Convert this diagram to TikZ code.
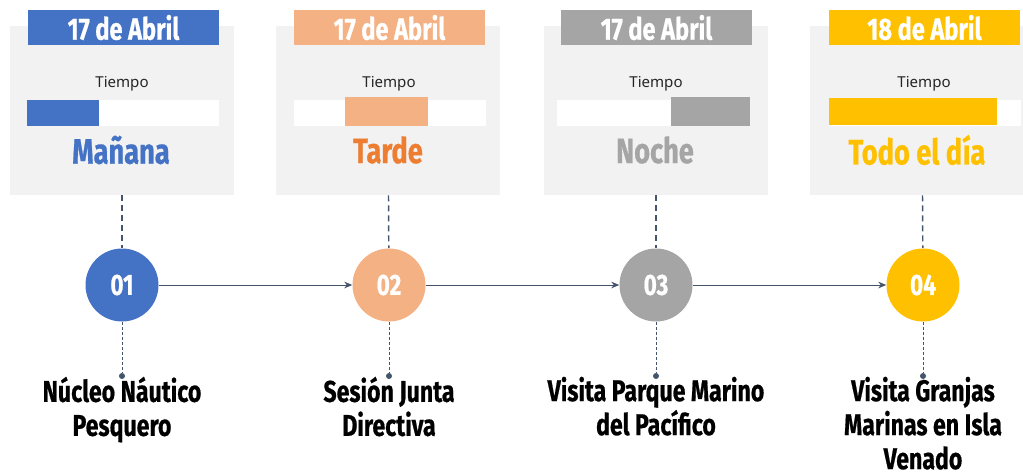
\documentclass[tikz,border=0pt]{standalone}
\usepackage{fontspec}
\newfontfamily\condfont[FakeStretch=0.82]{Fira Sans}
\newfontfamily\heavyfont[FakeStretch=0.77,FakeBold=0.6]{Fira Sans}
\newfontfamily\tiempofont{Noto Sans}
\usetikzlibrary{arrows.meta,positioning}
\definecolor{cardgray}{HTML}{F2F2F2}
\definecolor{linecol}{HTML}{44546A}
\definecolor{cblue}{HTML}{4472C4}
\definecolor{corange}{HTML}{F4B183}
\definecolor{cdorange}{HTML}{ED7D31}
\definecolor{cgray}{HTML}{A5A5A5}
\definecolor{cyellow}{HTML}{FFC000}
\tikzset{
  card/.style={fill=cardgray, minimum width=168pt, minimum height=126.75pt, inner sep=0},
  headbox/.style={minimum width=143.25pt, minimum height=26.25pt, inner sep=0, text=white, font=\heavyfont\bfseries\fontsize{23}{23}\selectfont},
  barbox/.style={fill=white, minimum width=144pt, minimum height=19.5pt, inner sep=0},
  fillpart/.style={anchor=west, inner sep=0},
  tiempo/.style={font=\tiempofont\fontsize{11.3}{12}\selectfont, text=black!85},
  slot/.style={font=\heavyfont\bfseries\fontsize{26.5}{26.5}\selectfont},
  stepnum/.style={circle, minimum size=54.75pt, inner sep=0, text=white, font=\heavyfont\bfseries\fontsize{22}{22}\selectfont},
  enddot/.style={circle, fill=linecol, minimum size=4.5pt, inner sep=0},
  labeltext/.style={anchor=north, align=center, inner sep=0, font=\heavyfont\bfseries\fontsize{22.5}{25.5}\selectfont},
  dashup/.style={linecol, line width=1.1pt, dash pattern=on 4.5pt off 3pt},
  dashdown/.style={linecol, line width=0.75pt, dash pattern=on 2.25pt off 1.5pt},
  flow/.style={linecol, line width=0.75pt, -{Stealth[length=6pt,width=5pt]}}
}
\begin{document}
\begin{tikzpicture}[x=0.75pt,y=-0.75pt]
\useasboundingbox (0,0) rectangle (1023,472);
\node[card] (card1) at (122,110.5){};
\node[headbox, fill=cblue] (head1) at (123.5,27.5){17 de Abril};
\node[tiempo] (tiem1) at (122,84){Tiempo};
\node[barbox] (bar1) at (123,113){};
\node[fillpart, fill=cblue, minimum width=54pt, minimum height=19.5pt] (fill1) at (27,113){};
\node[slot, text=cblue] (slot1) at (121,150){Mañana};
\node[stepnum, fill=cblue] (num1) at (122,285){01};
\node[enddot] (dot1) at (122,376){};
\node[labeltext] (lab1) at (122,376.5){Núcleo Náutico\\Pesquero};
\draw[dashup] (card1) -- (num1);
\draw[dashdown] (num1) -- (dot1);
\node[card] (card2) at (388,110.5){};
\node[headbox, fill=corange] (head2) at (389.5,27.5){17 de Abril};
\node[tiempo] (tiem2) at (389,84){Tiempo};
\node[barbox] (bar2) at (389.5,113){};
\node[fillpart, fill=corange, minimum width=62.25pt, minimum height=21.75pt] (fill2) at (345,111.5){};
\node[slot, text=cdorange] (slot2) at (388,150){Tarde};
\node[stepnum, fill=corange] (num2) at (389,285){02};
\node[enddot] (dot2) at (389,376){};
\node[labeltext] (lab2) at (389,376.5){Sesión Junta\\Directiva};
\draw[dashup] (card2) -- (num2);
\draw[dashdown] (num2) -- (dot2);
\node[card] (card3) at (656,110.5){};
\node[headbox, fill=cgray] (head3) at (656.5,27.5){17 de Abril};
\node[tiempo] (tiem3) at (656,84){Tiempo};
\node[barbox] (bar3) at (652.5,113){};
\node[fillpart, fill=cgray, minimum width=59.25pt, minimum height=21.75pt] (fill3) at (671,111.5){};
\node[slot, text=cgray] (slot3) at (655,150){Noche};
\node[stepnum, fill=cgray] (num3) at (656,285){03};
\node[enddot] (dot3) at (656,376){};
\node[labeltext] (lab3) at (656,376.5){Visita Parque Marino\\del Pacífico};
\draw[dashup] (card3) -- (num3);
\draw[dashdown] (num3) -- (dot3);
\node[card] (card4) at (922,110.5){};
\node[headbox, fill=cyellow] (head4) at (924.5,27.5){18 de Abril};
\node[tiempo] (tiem4) at (924,84){Tiempo};
\node[barbox] (bar4) at (924.5,113){};
\node[fillpart, fill=cyellow, minimum width=126pt, minimum height=20.25pt] (fill4) at (829,111.5){};
\node[slot, text=cyellow] (slot4) at (917,150){Todo el día};
\node[stepnum, fill=cyellow] (num4) at (923,285){04};
\node[enddot] (dot4) at (923,376){};
\node[labeltext] (lab4) at (923,376.5){Visita Granjas\\Marinas en Isla\\Venado};
\draw[dashup] (card4) -- (num4);
\draw[dashdown] (num4) -- (dot4);
\draw[flow] (num1) -- (num2);
\draw[flow] (num2) -- (num3);
\draw[flow] (num3) -- (num4);
\end{tikzpicture}
\end{document}
